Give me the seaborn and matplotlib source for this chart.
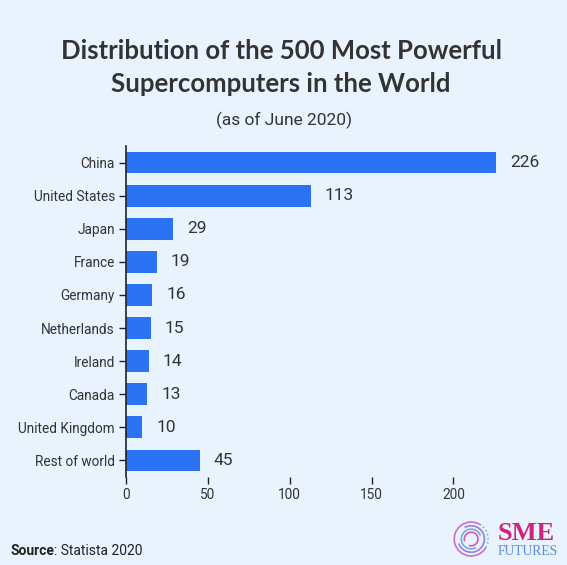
import matplotlib
matplotlib.use("Agg")
import matplotlib.pyplot as plt
import seaborn as sns
import pandas as pd
from matplotlib.patches import Arc

# Data
countries = ["China", "United States", "Japan", "France", "Germany",
             "Netherlands", "Ireland", "Canada", "United Kingdom", "Rest of world"]
counts = [226, 113, 29, 19, 16, 15, 14, 13, 10, 45]
x_ticks = [0, 50, 100, 150, 200]

df = pd.DataFrame({"country": countries, "count": counts})

bg = "#E8F3FD"
bar_color = "#2B73F3"
text_color = "#333333"

sns.set_style("white")
plt.rcParams["font.family"] = ["Roboto", "DejaVu Sans"]

fig = plt.figure(figsize=(5.67, 5.65), dpi=100, facecolor=bg)
ax = fig.add_axes([0.2222, 0.1558, 0.6526, 0.5858])
ax.set_facecolor(bg)

# Horizontal bars
sns.barplot(data=df, x="count", y="country", color=bar_color, width=0.66,
            saturation=1, linewidth=0, ax=ax)

# Value labels at bar ends
ax.bar_label(ax.containers[0], padding=10, fontsize=12.5, color=text_color)

ax.set_xlim(0, 226)
ax.set_ylim(9.5, -0.5)
ax.set_xticks(x_ticks)
ax.set_xlabel("")
ax.set_ylabel("")
for s in ["top", "right", "bottom"]:
    ax.spines[s].set_visible(False)
ax.spines["left"].set_color("#222222")
ax.spines["left"].set_linewidth(1.2)
ax.tick_params(axis="both", length=5, width=1, color="#222222",
               labelcolor=text_color, labelsize=9.8, pad=3)
ax.tick_params(axis="x", bottom=True)
ax.tick_params(axis="y", left=True)

# Titles
fig.text(0.496, 0.895, "Distribution of the 500 Most Powerful", ha="center",
         va="baseline", fontsize=18.5, fontweight="bold", color=text_color,
         family=["Lato", "DejaVu Sans"])
fig.text(0.496, 0.837, "Supercomputers in the World", ha="center",
         va="baseline", fontsize=18.5, fontweight="bold", color=text_color,
         family=["Lato", "DejaVu Sans"])
fig.text(0.5, 0.787, "(as of June 2020)", ha="center", va="center",
         fontsize=12.5, color=text_color)

# Source line
src = fig.text(0.018, 0.013, "Source", ha="left", va="bottom", fontsize=10,
               fontweight="bold", color="#222222")
ax.annotate(": Statista 2020", xy=(1, 0), xycoords=src, ha="left", va="bottom",
            fontsize=10, color="#222222", annotation_clip=False)

# Logo (rings + text)
lax = fig.add_axes([0.798, 0.013, 0.066, 0.066])
lax.set_xlim(-1.1, 1.1)
lax.set_ylim(-1.1, 1.1)
lax.set_aspect("equal")
lax.axis("off")
rings = [(1.0, "#C86FC9", (60, 330)), (0.78, "#9A7FD8", (200, 120)),
         (0.58, "#7EA6E6", (20, 300)), (0.4, "#D45AB0", (250, 200))]
for r, c, (t1, t2) in rings:
    lax.add_patch(Arc((0, 0), 2 * r, 2 * r, theta1=t1, theta2=t2, color=c, lw=1.2))
lax.add_patch(Arc((0, 0), 2.0, 2.0, theta1=330, theta2=420, color="#6FB8E8",
                  lw=1.2, linestyle=(0, (1, 1.5))))
fig.text(0.877, 0.045, "SME", ha="left", va="baseline", fontsize=19,
         fontweight="bold", color="#D0237F", family=["Liberation Serif", "DejaVu Serif"])
fig.text(0.878, 0.017, "FUTURES", ha="left", va="baseline", fontsize=9.8,
         color="#5B8ED6", family=["Liberation Serif", "DejaVu Serif"])

fig.savefig("out.png", dpi=100, facecolor=bg)
